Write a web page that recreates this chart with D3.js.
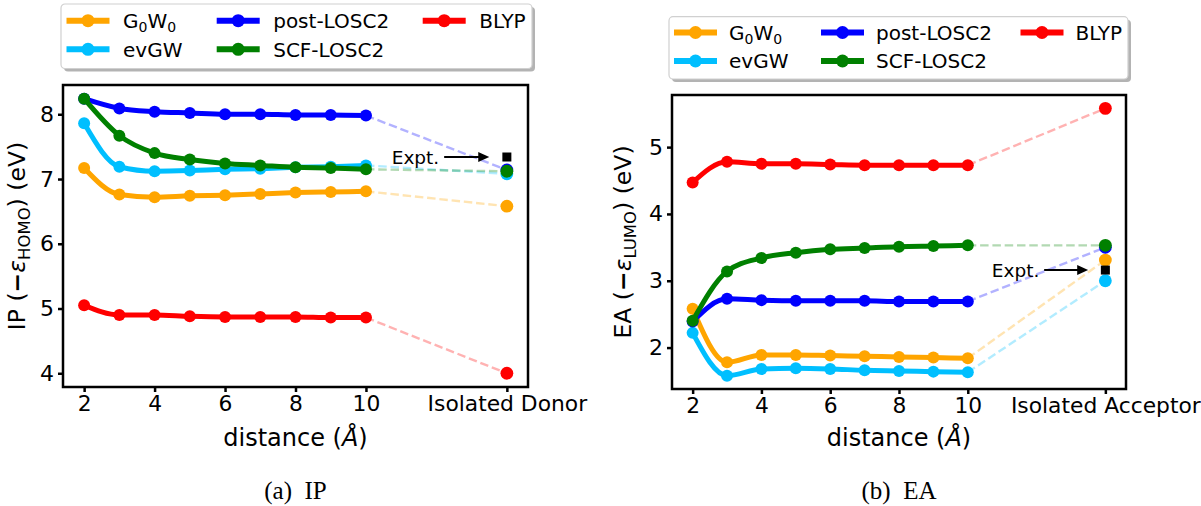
<!DOCTYPE html>
<html>
<head>
<meta charset="utf-8">
<script src="https://cdn.jsdelivr.net/npm/d3@7"></script>
<style>
  html, body { margin: 0; padding: 0; background: #fff; }
  svg { display: block; font-family: "DejaVu Sans", sans-serif; }
</style>
</head>
<body>
<svg id="chart" width="1201" height="506"></svg>
<script>
// ---------------- data ----------------
const distances = [2, 3, 4, 5, 6, 7, 8, 9, 10];
const isolatedX = 14;
const seriesNames = ["G0W0", "evGW", "post-LOSC2", "SCF-LOSC2", "BLYP"];
const seriesColors = ["#FFA500", "#00BFFF", "#0000FF", "#008000", "#FF0000"];

// Panel (a): IP
const ipG0W0 = [7.17, 6.76, 6.72, 6.74, 6.75, 6.77, 6.79, 6.80, 6.81];
const ipEvGW = [7.86, 7.19, 7.12, 7.13, 7.15, 7.16, 7.18, 7.19, 7.21];
const ipPost = [8.24, 8.09, 8.04, 8.02, 8.00, 8.00, 7.99, 7.99, 7.98];
const ipScf  = [8.24, 7.67, 7.40, 7.30, 7.24, 7.21, 7.18, 7.17, 7.15];
const ipBlyp = [5.05, 4.90, 4.90, 4.88, 4.87, 4.87, 4.87, 4.86, 4.86];
const ipIsolated = [6.58, 7.08, 7.14, 7.12, 4.00];   // same order as seriesNames
const ipExpt = 7.34;
const ipYTicks = [4, 5, 6, 7, 8];

// Panel (b): EA
const eaG0W0 = [2.58, 1.78, 1.89, 1.89, 1.88, 1.87, 1.86, 1.85, 1.84];
const eaEvGW = [2.22, 1.58, 1.68, 1.69, 1.68, 1.66, 1.65, 1.64, 1.63];
const eaPost = [2.39, 2.73, 2.71, 2.70, 2.70, 2.70, 2.69, 2.69, 2.69];
const eaScf  = [2.40, 3.14, 3.34, 3.42, 3.47, 3.49, 3.51, 3.52, 3.53];
const eaBlyp = [4.47, 4.78, 4.75, 4.75, 4.74, 4.73, 4.73, 4.73, 4.73];
const eaIsolated = [3.31, 3.00, 3.50, 3.53, 5.58];
const eaExpt = 3.16;
const eaYTicks = [2, 3, 4, 5];

const xTicks = [2, 4, 6, 8, 10, 14];

// ---------------- layout ----------------
const svg = d3.select("#chart");

const panels = [
  {
    values: [ipG0W0, ipEvGW, ipPost, ipScf, ipBlyp], iso: ipIsolated, expt: ipExpt,
    yTicks: ipYTicks, isoLabel: "Isolated Donor", ylab: ["IP (", "HOMO", ") (eV)"],
    caption: ["(a)", "IP"],
    box: { l: 63, r: 528, t: 85, b: 387 },
    ylabX: 25,
    legend: { l: 61, r: 532, t: 4, b: 68.5, rows: [20.7, 49.3], cols: [66.5, 216.7, 422.7], textDx: 56.5 }
  },
  {
    values: [eaG0W0, eaEvGW, eaPost, eaScf, eaBlyp], iso: eaIsolated, expt: eaExpt,
    yTicks: eaYTicks, isoLabel: "Isolated Acceptor", ylab: ["EA (", "LUMO", ") (eV)"],
    caption: ["(b)", "EA"],
    box: { l: 672, r: 1126, t: 95, b: 389 },
    ylabX: 631,
    legend: { l: 669, r: 1128, t: 16.7, b: 79, rows: [32.5, 61], cols: [674, 821, 1020.5], textDx: 55 }
  }
];

panels.forEach(p => {
  const B = p.box;
  const x = d3.scaleLinear().domain([1.4, 14.6]).range([B.l, B.r]);
  const all = p.values.flat().concat(p.iso);
  const lo = d3.min(all), hi = d3.max(all), pad = (hi - lo) * 0.05;
  const y = d3.scaleLinear().domain([lo - pad, hi + pad]).range([B.b, B.t]);

  const g = svg.append("g");

  const clipId = "clip" + B.l;
  svg.append("clipPath").attr("id", clipId)
    .append("rect").attr("x", B.l).attr("y", B.t).attr("width", B.r - B.l).attr("height", B.b - B.t);
  const plot = g.append("g").attr("clip-path", `url(#${clipId})`);

  const line = d3.line().x(d => x(d[0])).y(d => y(d[1])).curve(d3.curveMonotoneX);

  p.values.forEach((vals, i) => {
    const col = seriesColors[i];
    const pts = distances.map((d, k) => [d, vals[k]]);
    const sg = plot.append("g");
    sg.append("path").datum(pts).attr("d", line)
      .attr("fill", "none").attr("stroke", col).attr("stroke-width", 5)
      .attr("stroke-linecap", "round").attr("stroke-linejoin", "round");
    sg.selectAll("circle.m").data(pts).join("circle")
      .attr("cx", d => x(d[0])).attr("cy", d => y(d[1])).attr("r", 6).attr("fill", col);
    sg.append("line")
      .attr("x1", x(distances[distances.length - 1])).attr("y1", y(vals[vals.length - 1]))
      .attr("x2", x(isolatedX)).attr("y2", y(p.iso[i]))
      .attr("stroke", col).attr("stroke-opacity", 0.3).attr("stroke-width", 2.4)
      .attr("stroke-dasharray", "8.5,3.8");
    sg.append("circle").attr("cx", x(isolatedX)).attr("cy", y(p.iso[i])).attr("r", 6.4).attr("fill", col);
  });

  // Experimental value
  plot.append("rect")
    .attr("x", x(isolatedX) - 4.5).attr("y", y(p.expt) - 4.5)
    .attr("width", 9).attr("height", 9).attr("fill", "#000");
  const ax1 = x(12.22), ax2 = x(13.5), ay = y(p.expt);
  plot.append("line").attr("x1", ax1).attr("x2", ax2 - 8).attr("y1", ay).attr("y2", ay)
    .attr("stroke", "#000").attr("stroke-width", 2);
  plot.append("path")
    .attr("d", `M${ax2},${ay} L${ax2 - 11},${ay - 5} L${ax2 - 11},${ay + 5} Z`).attr("fill", "#000");
  plot.append("text").attr("x", x(12.08)).attr("y", ay).attr("dy", "0.36em")
    .attr("text-anchor", "end").attr("font-size", 18.5).text("Expt.");

  // frame
  g.append("rect").attr("x", B.l).attr("y", B.t).attr("width", B.r - B.l).attr("height", B.b - B.t)
    .attr("fill", "none").attr("stroke", "#000").attr("stroke-width", 2.5);

  // axes
  const xAxis = d3.axisBottom(x).tickValues(xTicks).tickSize(5).tickPadding(4)
    .tickFormat(d => d === isolatedX ? p.isoLabel : d3.format("d")(d));
  const gx = g.append("g").attr("transform", `translate(0,${B.b})`).call(xAxis);
  gx.select(".domain").remove();
  gx.selectAll(".tick line").attr("stroke-width", 2.5);
  gx.selectAll(".tick text").attr("font-size", 21.8).attr("fill", "#000")
    .attr("font-family", "DejaVu Sans");

  const yAxis = d3.axisLeft(y).tickValues(p.yTicks).tickSize(5).tickPadding(4).tickFormat(d3.format("d"));
  const gy = g.append("g").attr("transform", `translate(${B.l},0)`).call(yAxis);
  gy.select(".domain").remove();
  gy.selectAll(".tick line").attr("stroke-width", 2.5);
  gy.selectAll(".tick text").attr("font-size", 22).attr("fill", "#000")
    .attr("font-family", "DejaVu Sans");

  // axis labels
  const xl = g.append("text").attr("x", (B.l + B.r) / 2).attr("y", 446)
    .attr("text-anchor", "middle").attr("font-size", 24).attr("fill", "#000");
  xl.append("tspan").text("distance (");
  xl.append("tspan").attr("font-style", "italic").text("Å");
  xl.append("tspan").text(")");

  const yl = g.append("text")
    .attr("transform", `translate(${p.ylabX},${(B.t + B.b) / 2}) rotate(-90)`)
    .attr("text-anchor", "middle").attr("font-size", 23.5).attr("fill", "#000");
  yl.append("tspan").text(p.ylab[0]);
  yl.append("tspan").attr("font-weight", "bold").text("\u2212");
  yl.append("tspan").attr("font-style", "italic").text("\u03B5");
  yl.append("tspan").attr("font-size", 16.5).attr("dy", 5).text(p.ylab[1]);
  yl.append("tspan").attr("dy", -5).text(p.ylab[2]);

  // caption
  const cap = g.append("text").attr("x", (B.l + B.r) / 2).attr("y", 499)
    .attr("text-anchor", "middle").attr("font-size", 25)
    .attr("font-family", "Liberation Serif, serif").attr("fill", "#000");
  cap.append("tspan").text(p.caption[0] + "\u2002" + p.caption[1]);

  // legend
  const L = p.legend;
  const lg = svg.append("g");
  lg.append("rect").attr("x", L.l + 3).attr("y", L.t + 3).attr("width", L.r - L.l).attr("height", L.b - L.t)
    .attr("rx", 4).attr("fill", "#b3b3b3");
  lg.append("rect").attr("x", L.l).attr("y", L.t).attr("width", L.r - L.l).attr("height", L.b - L.t)
    .attr("rx", 4).attr("fill", "#fff").attr("stroke", "#d0d0d0").attr("stroke-width", 1.2);
  const order = [[0, 0, 0], [1, 0, 1], [2, 1, 0], [3, 1, 1], [4, 2, 0]];
  order.forEach(([i, c, r]) => {
    const hx = L.cols[c], hy = L.rows[r];
    lg.append("line").attr("x1", hx).attr("x2", hx + 43).attr("y1", hy).attr("y2", hy)
      .attr("stroke", seriesColors[i]).attr("stroke-width", 6);
    lg.append("circle").attr("cx", hx + 21.5).attr("cy", hy).attr("r", 6.5).attr("fill", seriesColors[i]);
    const t = lg.append("text").attr("x", hx + L.textDx).attr("y", hy).attr("dy", "0.36em")
      .attr("font-size", 20).attr("fill", "#000");
    if (seriesNames[i] === "G0W0") {
      t.append("tspan").text("G");
      t.append("tspan").attr("font-size", 14).attr("dy", 4).text("0");
      t.append("tspan").attr("dy", -4).text("W");
      t.append("tspan").attr("font-size", 14).attr("dy", 4).text("0");
    } else {
      t.text(seriesNames[i]);
    }
  });
});
</script>
</body>
</html>
